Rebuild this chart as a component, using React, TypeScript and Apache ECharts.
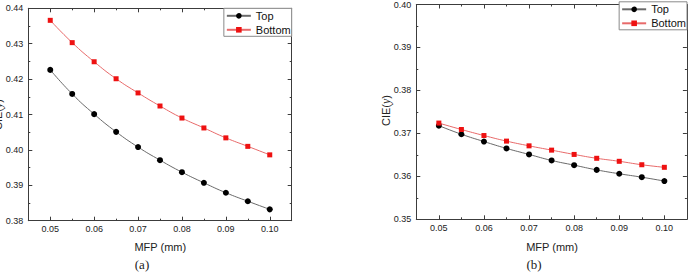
import { useEffect, useRef } from "react";
import * as echarts from "echarts";

// MFP sweep (mm)
const mfp = [0.05, 0.055, 0.06, 0.065, 0.07, 0.075, 0.08, 0.085, 0.09, 0.095, 0.1];

// Panel (a): CIE(y)
const cieTopA = [0.4226, 0.4158, 0.4101, 0.4051, 0.4008, 0.3971, 0.3937, 0.3907, 0.3879, 0.3855, 0.3832];
const cieBottomA = [0.4366, 0.4303, 0.4249, 0.4201, 0.4161, 0.4124, 0.409, 0.4062, 0.4034, 0.401, 0.3986];

// Panel (b): CIE(y)
const cieTopB = [0.3718, 0.3698, 0.3681, 0.3665, 0.3651, 0.3637, 0.3626, 0.3615, 0.3606, 0.3598, 0.3589];
const cieBottomB = [0.3724, 0.3709, 0.3695, 0.3682, 0.3671, 0.3661, 0.3651, 0.3642, 0.3635, 0.3627, 0.3621];

// Tick positions
const xMajorTicks = [0.05, 0.06, 0.07, 0.08, 0.09, 0.1];
const xMinorTicks = [0.055, 0.065, 0.075, 0.085, 0.095];
const xRange = [0.045, 0.105];
const yRangeA = [0.38, 0.44];
const yRangeB = [0.35, 0.4];

const SANS = "'Liberation Sans', Arial, sans-serif";
const SERIF = "'Liberation Serif', 'Times New Roman', serif";
const AXIS = "#3c3c3c";
const TEXT = "#222";

function xAxesFor(gridIndex: number) {
  const base = {
    type: "value",
    gridIndex,
    min: xRange[0],
    max: xRange[1],
    splitLine: { show: false },
  };
  const major = (position: string, labels: boolean) => ({
    ...base,
    position,
    axisLine: { show: true, lineStyle: { color: AXIS, width: 1 } },
    axisTick: {
      show: true,
      inside: true,
      length: 4,
      customValues: xMajorTicks,
      lineStyle: { color: AXIS, width: 1 },
    },
    axisLabel: {
      show: labels,
      customValues: xMajorTicks,
      formatter: (v: number) => v.toFixed(2),
      margin: 4,
      fontSize: 9,
      fontFamily: SANS,
      color: TEXT,
    },
  });
  const minor = (position: string) => ({
    ...base,
    position,
    axisLine: { show: false },
    axisTick: {
      show: true,
      inside: true,
      length: 2,
      customValues: xMinorTicks,
      lineStyle: { color: AXIS, width: 1 },
    },
    axisLabel: { show: false },
  });
  return [major("bottom", true), minor("bottom"), major("top", false), minor("top")];
}

function yAxesFor(gridIndex: number, range: number[]) {
  const base = {
    type: "value",
    gridIndex,
    min: range[0],
    max: range[1],
    interval: 0.01,
    splitLine: { show: false },
    axisLine: { show: true, lineStyle: { color: AXIS, width: 1 } },
    axisTick: { show: true, inside: true, length: 4, lineStyle: { color: AXIS, width: 1 } },
    minorTick: { show: true, splitNumber: 2, length: 2, lineStyle: { color: AXIS, width: 1 } },
  };
  return [
    {
      ...base,
      position: "left",
      axisLabel: {
        show: true,
        formatter: (v: number) => v.toFixed(2),
        margin: 5,
        fontSize: 9,
        fontFamily: SANS,
        color: TEXT,
      },
    },
    { ...base, position: "right", axisLabel: { show: false } },
  ];
}

function seriesFor(xAxisIndex: number, yAxisIndex: number, top: number[], bottom: number[]) {
  return [
    {
      type: "line",
      name: "Top",
      xAxisIndex,
      yAxisIndex,
      data: mfp.map((x, i) => [x, top[i]]),
      symbol: "circle",
      symbolSize: 6,
      smooth: true,
      itemStyle: { color: "#000" },
      lineStyle: { color: "#6a6a6a", width: 1 },
    },
    {
      type: "line",
      name: "Bottom",
      xAxisIndex,
      yAxisIndex,
      data: mfp.map((x, i) => [x, bottom[i]]),
      symbol: "rect",
      symbolSize: 5,
      smooth: true,
      itemStyle: { color: "#ee1111" },
      lineStyle: { color: "#e86a6a", width: 1 },
    },
  ];
}

function legendAt(right: number, top: number) {
  return {
    orient: "vertical",
    right,
    top,
    data: ["Top", "Bottom"],
    selectedMode: false,
    itemWidth: 24,
    itemHeight: 7,
    itemGap: 3,
    padding: [2, 1, 1, 2],
    borderColor: "#8a8a8a",
    borderWidth: 1,
    backgroundColor: "#fff",
    textStyle: { fontSize: 11, fontFamily: SANS, color: "#111" },
  };
}

function label(x: number, y: number, text: string, font: string, size: number) {
  return {
    type: "text",
    x,
    y,
    style: {
      text,
      fontSize: size,
      fontFamily: font,
      fill: TEXT,
      align: "center",
      verticalAlign: "middle",
      textAlign: "center",
      textVerticalAlign: "middle",
    },
  };
}

function yTitle(x: number, y: number) {
  return {
    type: "text",
    x,
    y,
    rotation: Math.PI / 2,
    style: {
      text: "{n|CIE(}{i|y}{n|)}",
      fill: TEXT,
      align: "center",
      verticalAlign: "middle",
      textAlign: "center",
      textVerticalAlign: "middle",
      rich: {
        n: { fontSize: 11, fontFamily: SANS, fill: TEXT },
        i: { fontSize: 12, fontFamily: SERIF, fontStyle: "italic", fill: TEXT },
      },
    },
  };
}

export default function App() {
  const ref = useRef<HTMLDivElement>(null);

  useEffect(() => {
    if (!ref.current) return;
    const chart = echarts.init(ref.current, undefined, { renderer: "svg" });
    chart.setOption({
      animation: false,
      backgroundColor: "#fff",
      grid: [
        { left: 28.3, top: 8.3, width: 263.4, height: 212.4 },
        { left: 416.3, top: 1.8, width: 270.6, height: 217.5 },
      ],
      xAxis: [...xAxesFor(0), ...xAxesFor(1)],
      yAxis: [...yAxesFor(0, yRangeA), ...yAxesFor(1, yRangeB)],
      legend: [legendAt(401.3, 8.3), legendAt(6, 1.8)],
      series: [
        ...seriesFor(0, 0, cieTopA, cieBottomA),
        ...seriesFor(4, 2, cieTopB, cieBottomB),
      ],
      graphic: [
        label(160.3, 247, "MFP (mm)", SANS, 11),
        label(552, 247, "MFP (mm)", SANS, 11),
        label(142, 264.5, "(a)", SERIF, 13),
        label(534, 264.5, "(b)", SERIF, 13),
        yTitle(-1.7, 114.5),
        yTitle(386.3, 110.5),
      ],
    });
    return () => chart.dispose();
  }, []);

  return (
    <div
      ref={ref}
      style={{ position: "fixed", left: 0, top: 0, width: 693, height: 272 }}
    />
  );
}
